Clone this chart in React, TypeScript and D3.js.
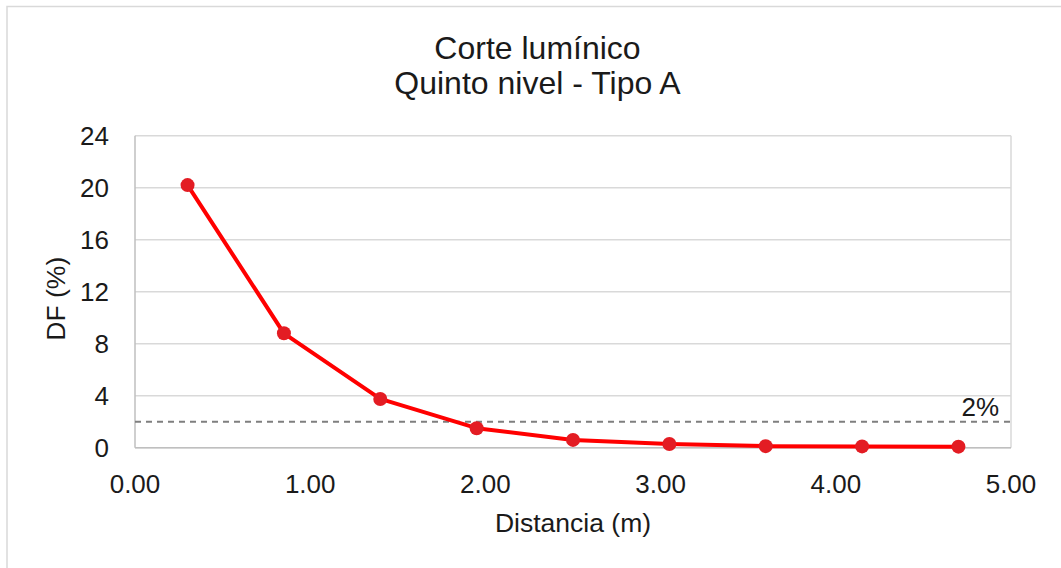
import React from "react";
import * as d3 from "d3";

const distances = [0.3, 0.85, 1.4, 1.95, 2.5, 3.05, 3.6, 4.15, 4.7];
const dfValues = [20.2, 8.8, 3.75, 1.5, 0.6, 0.28, 0.12, 0.1, 0.08];
const yTicks = [0, 4, 8, 12, 16, 20, 24];
const xTicks = [0, 1, 2, 3, 4, 5];
const threshold = 2;
const titleLines = ["Corte lumínico", "Quinto nivel - Tipo A"];
const xLabel = "Distancia (m)";
const yLabel = "DF (%)";
const thresholdLabel = "2%";

const W = 1061;
const H = 568;
const FONT = "'Liberation Sans', Arial, sans-serif";

export default function App() {
  const left = 135, right = 1011, top = 135.7, bottom = 447.7;
  const x = d3.scaleLinear().domain([0, 5]).range([left, right]);
  const y = d3.scaleLinear().domain([0, 24]).range([bottom, top]);
  const line = d3
    .line<number>()
    .x((_, i) => x(distances[i]))
    .y((d) => y(d));

  return (
    <svg
      width={W}
      height={H}
      style={{ position: "absolute", left: 0, top: 0, background: "#fff" }}
      fontFamily={FONT}
    >
      <rect x={7} y={6.5} width={W + 10} height={H + 10} fill="#fff" stroke="#d9d9d9" strokeWidth={1.5} />
      {titleLines.map((t, i) => (
        <text key={t} x={537.5} y={58.5 + i * 35} textAnchor="middle" fontSize={32} fill="#1a1a1a">
          {t}
        </text>
      ))}
      {yTicks.map((t) => (
        <line key={"g" + t} x1={left} x2={right} y1={y(t)} y2={y(t)} stroke="#d9d9d9" strokeWidth={1.5} />
      ))}
      <line x1={left} x2={left} y1={top} y2={bottom} stroke="#bfbfbf" strokeWidth={1.5} />
      <line x1={right} x2={right} y1={top} y2={bottom} stroke="#d9d9d9" strokeWidth={1.5} />
      <line x1={left} x2={right} y1={bottom} y2={bottom} stroke="#bfbfbf" strokeWidth={1.5} />
      {yTicks.map((t) => (
        <text key={"yt" + t} x={109} y={y(t) + 9.5} textAnchor="end" fontSize={26} fill="#1a1a1a">
          {t}
        </text>
      ))}
      {xTicks.map((t) => (
        <text key={"xt" + t} x={x(t)} y={492.5} textAnchor="middle" fontSize={26} fill="#1a1a1a">
          {d3.format(".2f")(t)}
        </text>
      ))}
      <text x={573} y={531.5} textAnchor="middle" fontSize={26.5} fill="#1a1a1a">
        {xLabel}
      </text>
      <text
        transform={`translate(65,${(top + bottom) / 2 + 7}) rotate(-90)`}
        textAnchor="middle"
        fontSize={26.5}
        fill="#1a1a1a"
      >
        {yLabel}
      </text>
      <line
        x1={left}
        x2={right}
        y1={y(threshold)}
        y2={y(threshold)}
        stroke="#7f7f7f"
        strokeWidth={2}
        strokeDasharray="6,5"
      />
      <text x={999} y={y(threshold) - 6} textAnchor="end" fontSize={26} fill="#1a1a1a">
        {thresholdLabel}
      </text>
      <path d={line(dfValues) || ""} fill="none" stroke="#ff0000" strokeWidth={4} strokeLinejoin="round" />
      {dfValues.map((v, i) => (
        <circle key={"p" + i} cx={x(distances[i])} cy={y(v)} r={7} fill="#e31c23" />
      ))}
    </svg>
  );
}
